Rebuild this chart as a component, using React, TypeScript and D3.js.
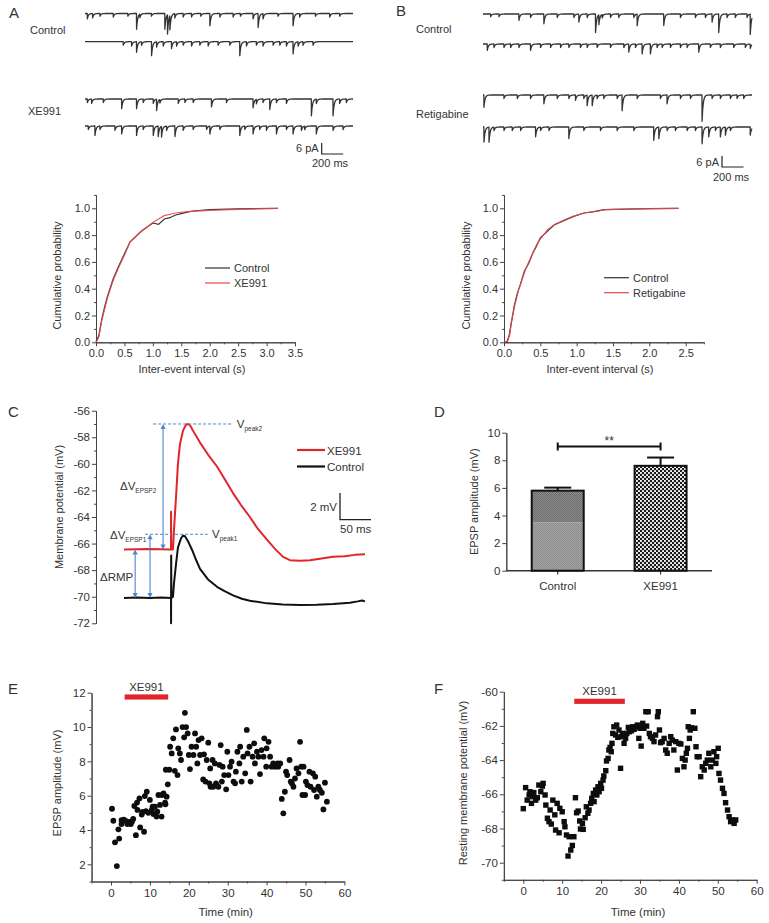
import React, { useEffect, useRef } from 'react';
import * as d3 from 'd3';

const FONT = '"Liberation Sans", Arial, Helvetica, sans-serif';
const TXT = '#333';
const RED = '#e0262b';
const BLUE = '#4f86c9';

// ---------- Panel A / B current traces: events [time ms, amplitude pA] ----------
const TRACE_MS = 2500;
const traceACtrl1 = [[22,3],[71,2.5],[140,1.5],[264,2],[400,1.5],[481,9],[512,2],[620,1.5],[745,9],[770,11],[792,8],[838,2.5],[916,2],[994,2],[1080,1.5],[1165,7],[1258,2],[1382,2],[1450,1.5],[1568,3],[1615,8],[1661,3],[1800,1.5],[1941,7],[2003,2],[2150,1.5],[2283,2],[2376,1.5]];
const traceACtrl2 = [[357,2],[435,2.5],[481,6],[528,2],[621,8],[668,3],[730,2.5],[807,4],[854,2.5],[916,2],[994,2.5],[1071,2],[1149,2.5],[1242,2],[1351,2],[1444,8],[1506,2.5],[1599,2],[1661,2.5],[1755,2],[1817,2],[1879,2.5],[1941,7],[1988,2.5],[2034,2],[2127,2]];
const traceAXe1 = [[22,2],[62,2.5],[171,2],[342,5.5],[481,5.5],[543,2],[637,2.5],[668,6.5],[699,2],[870,2.5],[932,2],[1009,2],[1180,4.5],[1320,2],[1568,5],[1599,2.5],[1661,2],[1724,6],[1786,2],[1879,2.5],[2112,9.6],[2158,2.5],[2314,9.6],[2376,2.5],[2438,2]];
const traceAXe2 = [[31,2],[93,5.4],[140,2],[280,2.5],[342,4.5],[481,5.4],[543,2],[637,5.4],[683,6],[714,6],[761,2.5],[839,6],[916,2.5],[1009,2],[1134,2],[1165,4.5],[1258,2],[1444,5.4],[1491,2],[1568,4.5],[1630,2],[1693,2.5],[1786,4.5],[1879,2],[1941,4.5],[2019,2.5],[2050,2],[2158,4.5],[2314,2.5],[2407,2]];
const traceBCtrl1 = [[71,1.5],[149,1.5],[334,3.6],[442,2],[566,5.6],[690,2],[845,2],[891,4.6],[968,2],[1046,10.6],[1077,5.6],[1108,2],[1185,2],[1262,2],[1402,2],[1433,6.6],[1680,6.6],[1835,2],[1974,2],[2067,2],[2129,4.6],[2191,10.6],[2268,2],[2345,2],[2454,2],[2484,11.6]];
const traceBCtrl2 = [[40,3.6],[102,2],[195,2],[257,2],[334,2],[442,3.6],[535,2],[628,2],[721,2],[798,2],[906,2],[968,2],[1061,2],[1185,2],[1309,2],[1355,4.6],[1417,2],[1479,5.6],[1556,5.6],[1618,2],[1665,2],[1742,2],[1835,2],[1897,2],[2005,4.6],[2113,2],[2206,2],[2330,2],[2438,2],[2484,2.5]];
const traceBRet1 = [[9,7],[195,2],[319,2],[442,2],[566,5],[690,2],[798,2],[860,3],[937,2],[968,6],[1015,6],[1061,2],[1123,2],[1247,2],[1293,9],[1433,2],[1649,2],[1711,5],[1835,2],[1928,2],[2036,15],[2129,2],[2206,2],[2299,2],[2361,2],[2423,2]];
const traceBRet2 = [[9,8.6],[56,8.6],[102,2],[195,2],[272,2],[350,2],[489,5.6],[535,2],[613,2],[798,6.6],[937,2],[1092,2],[1247,2],[1402,2],[1587,7.6],[1634,6.6],[1711,2],[1788,2],[1897,2],[1974,2],[2036,9.6],[2098,5.6],[2160,2],[2206,5.6],[2253,4.6],[2299,2],[2484,4.6]];

// ---------- Cumulative probability curves [interval s, probability] ----------
const cumACtrl = [[0,0],[0.05,0.05],[0.1,0.17],[0.15,0.26],[0.2,0.34],[0.3,0.47],[0.4,0.57],[0.5,0.66],[0.6,0.75],[0.7,0.79],[0.8,0.83],[0.9,0.86],[1.0,0.89],[1.1,0.88],[1.2,0.92],[1.3,0.93],[1.4,0.95],[1.5,0.96],[1.7,0.98],[2.0,0.99],[2.5,0.995],[3.2,1.0]];
const cumAXe = [[0,0],[0.05,0.04],[0.1,0.16],[0.2,0.33],[0.3,0.46],[0.4,0.56],[0.5,0.65],[0.6,0.75],[0.7,0.79],[0.8,0.83],[0.9,0.86],[1.0,0.895],[1.1,0.92],[1.2,0.945],[1.4,0.965],[1.6,0.975],[2.0,0.985],[2.5,0.992],[3.2,1.0]];
const cumBCtrl = [[0,0],[0.04,0],[0.07,0.05],[0.1,0.14],[0.14,0.27],[0.18,0.36],[0.23,0.44],[0.28,0.53],[0.34,0.59],[0.4,0.67],[0.44,0.71],[0.5,0.78],[0.6,0.83],[0.69,0.875],[0.83,0.91],[0.96,0.94],[1.1,0.965],[1.24,0.975],[1.38,0.99],[1.7,0.994],[2.0,0.997],[2.4,1.0]];
const cumBRet = [[0,0],[0.05,0.01],[0.08,0.06],[0.1,0.15],[0.15,0.28],[0.2,0.39],[0.25,0.47],[0.3,0.55],[0.35,0.61],[0.4,0.67],[0.45,0.73],[0.5,0.77],[0.6,0.84],[0.7,0.88],[0.8,0.905],[0.95,0.94],[1.1,0.965],[1.3,0.98],[1.4,0.99],[1.8,0.995],[2.4,1.0]];

// ---------- Panel C membrane potential traces [time ms, mV] ----------
const epspXe = [[0,-66.45],[40,-66.4],[75.8,-66.45],[75.9,-63.6],[76.2,-66.45],[79,-66.45],[80.6,-65],[83.9,-62.5],[87,-60],[90.3,-58.5],[95.2,-57.5],[100,-57.05],[103.2,-57.0],[106.5,-57.1],[111.3,-57.5],[122.6,-58.4],[135.5,-59.3],[150,-60.2],[163,-61.2],[175.8,-62.2],[188.7,-63.1],[203,-64.0],[216,-64.9],[230.6,-65.7],[243.5,-66.4],[256.5,-67.0],[267.7,-67.25],[283.9,-67.3],[300,-67.25],[316,-67.15],[337,-67.0],[356,-66.95],[372.6,-66.85],[388.7,-66.8]];
const epspCtrl = [[0,-70.1],[20,-70.05],[42,-70.1],[60,-70.05],[75.8,-70.1],[75.9,-72],[76.1,-66.9],[76.4,-70.1],[79,-70.0],[80.6,-69],[84,-67.5],[87,-66.3],[92,-65.6],[95.2,-65.4],[98.4,-65.45],[103,-65.8],[110,-66.5],[116,-67.2],[122.6,-67.9],[135.5,-68.7],[150,-69.25],[163,-69.6],[176,-69.9],[190,-70.15],[203,-70.3],[230.6,-70.5],[256,-70.58],[284,-70.62],[311,-70.6],[337,-70.55],[364.5,-70.45],[377,-70.35],[384,-70.28],[388.7,-70.35]];
const cPeaks = { peak2: -57.0, peak1: -65.3, rmpXe: -66.45, rmpCtrl: -70.1 };

// ---------- Panel D bars ----------
const dGroups = ['Control', 'XE991'];
const dMeans = [5.8, 7.6];
const dErrors = [0.22, 0.6];

// ---------- Panel E: EPSP amplitude vs time [min, mV] ----------
const ePoints = [[0.26,5.24],[0.6,4.54],[1.03,3.28],[1.5,1.9],[1.9,4.04],[2.1,3.5],[2.7,4.58],[2.7,4.35],[3.3,4.6],[3.9,4.52],[4.2,4.35],[4.7,4.47],[5.1,4.35],[5.4,4.5],[5.7,4.64],[6.0,5.4],[6.4,3.7],[6.7,5.6],[6.8,5.17],[7.3,5.84],[7.5,4.15],[7.9,4.9],[8.1,5.05],[8.5,3.9],[8.7,5.98],[9.0,5.1],[9.2,6.23],[9.6,5.0],[10.0,5.75],[10.5,5.17],[10.7,5.36],[10.9,4.93],[11.3,5.36],[11.7,4.78],[11.9,5.07],[12.2,6.04],[12.6,5.46],[13.0,4.78],[13.1,6.04],[13.5,6.13],[13.9,5.59],[14.0,5.5],[14.1,7.51],[14.3,5.94],[14.6,6.66],[15.0,7.51],[15.2,8.85],[15.6,8.46],[16.0,9.34],[16.4,7.45],[16.7,9.86],[17.1,7.2],[17.3,8.76],[17.7,8.46],[18.0,8.08],[18.4,10.0],[18.8,9.4],[19.0,10.83],[19.3,10.0],[19.7,9.63],[20.0,8.37],[20.3,7.55],[20.7,8.85],[21.2,8.37],[21.6,9.63],[21.9,8.85],[22.2,7.88],[22.5,9.24],[22.9,8.37],[23.3,9.34],[23.7,6.95],[23.9,8.41],[24.3,6.82],[24.6,8.08],[25.0,9.09],[25.3,6.72],[25.5,7.59],[25.6,6.52],[26.1,8.08],[26.3,6.52],[26.7,7.88],[27.0,6.72],[27.6,6.52],[27.9,7.79],[28.2,8.95],[28.5,6.82],[28.7,7.69],[29.1,7.2],[29.6,6.37],[29.9,8.56],[30.2,7.2],[30.6,7.69],[31.0,7.98],[31.5,6.82],[31.9,6.72],[32.1,7.4],[32.5,8.56],[33.0,7.88],[33.2,8.85],[33.6,6.82],[34.0,8.27],[34.5,7.3],[34.9,9.83],[35.1,8.46],[35.6,8.85],[35.9,6.82],[36.4,8.27],[36.8,9.05],[37.0,7.88],[37.5,8.56],[37.9,8.27],[38.3,7.26],[38.7,8.66],[39.2,8.27],[39.4,9.34],[39.9,7.69],[40.0,8.76],[40.5,9.14],[40.9,8.27],[41.3,7.69],[41.7,7.88],[42.2,7.69],[42.4,7.79],[42.8,7.88],[43.0,7.69],[43.5,7.88],[43.9,5.81],[44.3,4.97],[44.7,6.23],[45.0,7.4],[45.3,7.2],[45.9,8.08],[46.2,6.82],[46.5,6.72],[46.9,6.52],[47.3,7.0],[47.7,7.59],[48.2,7.3],[48.6,9.14],[48.9,7.69],[49.2,6.04],[49.5,7.69],[49.9,6.04],[50.1,6.82],[50.5,6.62],[51.0,7.4],[51.3,6.52],[51.9,7.3],[52.2,6.33],[52.5,7.11],[52.9,5.94],[53.3,6.52],[53.7,6.33],[54.2,6.17],[54.6,5.2],[55.0,6.76],[55.5,5.65]];
const eDrug = [3.5, 14.7];

// ---------- Panel F: resting membrane potential vs time [min, mV] ----------
const fPoints = [[0.0,-66.84],[0.6,-65.61],[1.0,-66.34],[1.5,-66.04],[1.7,-65.85],[2.1,-66.53],[2.4,-66.14],[2.7,-65.9],[3.2,-66.34],[3.6,-66.2],[4.0,-65.46],[4.5,-65.85],[4.9,-65.52],[5.1,-65.36],[5.6,-66.04],[5.8,-66.63],[6.2,-67.4],[6.6,-67.6],[6.9,-66.92],[7.2,-67.74],[7.6,-66.34],[8.1,-67.2],[8.3,-68.09],[8.7,-66.53],[9.2,-68.25],[9.4,-66.82],[10.0,-67.02],[10.5,-67.6],[10.7,-67.9],[11.1,-68.38],[11.5,-69.61],[11.8,-68.48],[12.2,-69.26],[12.6,-68.99],[13.0,-68.48],[13.4,-66.2],[13.7,-67.08],[14.1,-66.98],[14.5,-67.56],[14.7,-68.03],[15.2,-67.7],[15.4,-68.05],[15.9,-67.37],[16.2,-66.73],[16.6,-67.11],[16.9,-66.92],[17.3,-66.53],[17.6,-66.24],[18.0,-65.95],[18.2,-66.43],[18.6,-65.75],[18.9,-66.04],[19.2,-65.56],[19.5,-65.85],[19.9,-65.36],[20.1,-65.65],[20.5,-65.17],[20.7,-64.93],[21.2,-64.62],[21.4,-64.05],[21.8,-63.9],[22.0,-63.41],[22.3,-63.26],[22.6,-63.51],[22.8,-63.02],[23.0,-62.44],[23.3,-62.05],[23.7,-62.53],[24.0,-61.95],[24.3,-62.67],[24.6,-62.24],[25.0,-64.48],[25.2,-62.63],[25.5,-62.44],[25.9,-63.02],[26.3,-62.73],[26.6,-62.44],[27.0,-62.09],[27.3,-62.34],[27.8,-62.28],[28.1,-62.05],[28.5,-62.2],[28.9,-62.05],[29.3,-61.95],[29.7,-62.73],[30.0,-62.14],[30.3,-63.18],[30.7,-61.85],[31.0,-62.14],[31.5,-61.17],[31.7,-62.01],[32.1,-61.17],[32.4,-62.44],[32.7,-62.63],[33.2,-62.73],[33.6,-62.92],[34.0,-62.53],[34.5,-61.46],[34.7,-61.17],[35.0,-62.24],[35.3,-62.98],[35.7,-62.92],[36.2,-62.73],[36.6,-63.41],[37.0,-63.6],[37.5,-63.02],[37.9,-62.63],[38.3,-62.83],[38.7,-63.41],[39.2,-62.92],[39.6,-64.58],[40.0,-63.02],[40.5,-63.06],[40.9,-63.9],[41.3,-64.39],[41.6,-64.0],[41.9,-63.6],[42.2,-63.31],[42.4,-62.05],[42.7,-62.73],[42.9,-62.24],[43.2,-62.11],[43.7,-61.17],[44.1,-62.14],[44.4,-63.22],[44.7,-63.8],[45.2,-63.8],[45.6,-64.97],[46.0,-64.39],[46.5,-64.58],[46.9,-64.19],[47.3,-64.0],[47.7,-63.6],[48.2,-64.39],[48.6,-64.0],[49.0,-63.51],[49.5,-64.19],[49.7,-63.8],[50.1,-63.31],[50.3,-64.78],[50.7,-65.17],[51.2,-65.65],[51.6,-65.95],[52.0,-66.49],[52.5,-66.92],[52.9,-67.31],[53.3,-67.6],[53.7,-67.5],[54.2,-67.7],[54.6,-67.5]];
const fDrug = [13.1, 26.1];

type Sel = d3.Selection<any, any, any, any>;

function txt(g: Sel, x: number, y: number, s: string, size = 11, anchor = 'start', color = TXT) {
  return g.append('text').attr('x', x).attr('y', y).attr('font-size', size)
    .attr('font-family', FONT).attr('fill', color).attr('text-anchor', anchor).text(s);
}

function axis(g: Sel, scale: any, orient: 'left' | 'bottom', pos: number, major: number[], minor: number[], fmt: (d: any) => string, size = 11, majLen = 4, minLen = 2, pad = 2) {
  const mk = orient === 'left' ? d3.axisLeft : d3.axisBottom;
  const tr = orient === 'left' ? `translate(${pos},0)` : `translate(0,${pos})`;
  const gm = g.append('g').attr('transform', tr);
  gm.call(mk(scale).tickValues(minor).tickSize(minLen).tickSizeOuter(0).tickFormat(() => '') as any);
  const gM = g.append('g').attr('transform', tr);
  gM.call(mk(scale).tickValues(major).tickSize(majLen).tickSizeOuter(0).tickPadding(pad).tickFormat(fmt as any) as any);
  [gm, gM].forEach((a) => {
    a.selectAll('path').attr('stroke', '#444').attr('stroke-width', 1);
    a.selectAll('line').attr('stroke', '#444').attr('stroke-width', 1);
    a.selectAll('text').attr('font-size', size).attr('font-family', FONT).attr('fill', TXT);
  });
}

function tracePath(events: number[][], x0: number, x1: number, yBase: number) {
  const xs = d3.scaleLinear([0, TRACE_MS], [x0, x1]);
  const ys = d3.scaleLinear([0, 6], [yBase, yBase + 10.5]);
  const evs = events.slice().sort((a, b) => a[0] - b[0]);
  const pts: [number, number][] = [];
  for (let t = 0; t <= TRACE_MS; t += 1) {
    let v = 0;
    for (const [t0, a] of evs) if (t >= t0) v += a * Math.exp(-(t - t0) / 10);
    pts.push([xs(t), ys(v)]);
  }
  return d3.line()(pts) as string;
}

function drawTraces(svg: Sel) {
  const g = svg.append('g');
  const sets: [number[][], number, number, number][] = [
    [traceACtrl1, 85, 353, 13.5], [traceACtrl2, 85, 353, 41.7], [traceAXe1, 85, 353, 99], [traceAXe2, 85, 353, 126],
    [traceBCtrl1, 483, 752, 14], [traceBCtrl2, 483, 752, 44], [traceBRet1, 483, 752, 95], [traceBRet2, 483, 752, 127],
  ];
  sets.forEach(([ev, x0, x1, yb]) => {
    g.append('path').attr('d', tracePath(ev, x0, x1, yb)).attr('fill', 'none')
      .attr('stroke', '#333').attr('stroke-width', 1.3).attr('stroke-linejoin', 'round');
  });
  txt(g, 30, 33.5, 'Control');
  txt(g, 28, 115, 'XE991');
  txt(g, 416, 32.5, 'Control');
  txt(g, 416, 118, 'Retigabine');
  // scale bars
  const sb = (xv: number, yb: number, tx: number, ty1: number, ty2: number) => {
    g.append('path').attr('d', `M${xv},${yb - 11}V${yb}H${xv + 21.5}`).attr('fill', 'none').attr('stroke', '#222').attr('stroke-width', 1.2);
    txt(g, xv - 3, ty1, '6 pA', 11, 'end');
    txt(g, tx, ty2, '200 ms', 11, 'start');
  };
  sb(321.7, 154, 312, 152, 167);
  sb(722, 167, 713, 166, 180.5);
  svg.append('text').attr('x', 9).attr('y', 18).attr('font-size', 15).attr('font-family', FONT).attr('fill', TXT).text('A');
  svg.append('text').attr('x', 396).attr('y', 16).attr('font-size', 15).attr('font-family', FONT).attr('fill', TXT).text('B');
}

function drawCum(svg: Sel, x0: number, xMax: number, pxPerUnit: number, majX: number[], minX: number[], ctrl: number[][], trt: number[][], trtName: string, legX: number, legY: number, ylabX: number, xlabX: number) {
  const g = svg.append('g');
  const x = d3.scaleLinear([0, xMax], [x0, x0 + xMax * pxPerUnit]);
  const y = d3.scaleLinear([0, 1.1], [342.3, 342.3 - 1.1 * 134]);
  axis(g, y, 'left', x0, [0, 0.2, 0.4, 0.6, 0.8, 1.0], [0.1, 0.3, 0.5, 0.7, 0.9, 1.1], d3.format('.1f'));
  axis(g, x, 'bottom', 342.3, majX, minX, d3.format('.1f'), 11, 4, 2, 3);
  const line = d3.line<number[]>().x((d) => x(d[0])).y((d) => y(d[1]));
  g.append('path').attr('d', line(ctrl) as string).attr('fill', 'none').attr('stroke', '#333').attr('stroke-width', 1.2);
  g.append('path').attr('d', line(trt) as string).attr('fill', 'none').attr('stroke', '#e8474c').attr('stroke-width', 1.2).attr('opacity', 0.9);
  g.append('line').attr('x1', legX).attr('x2', legX + 25).attr('y1', legY).attr('y2', legY).attr('stroke', '#333').attr('stroke-width', 1.2);
  g.append('line').attr('x1', legX).attr('x2', legX + 25).attr('y1', legY + 15).attr('y2', legY + 15).attr('stroke', '#e8474c').attr('stroke-width', 1.2);
  txt(g, legX + 29, legY + 4, 'Control');
  txt(g, legX + 29, legY + 19, trtName);
  g.append('text').attr('transform', `translate(${ylabX},275.5) rotate(-90)`).attr('text-anchor', 'middle')
    .attr('font-size', 11).attr('font-family', FONT).attr('fill', TXT).text('Cumulative probability');
  txt(g, xlabX, 373, 'Inter-event interval (s)', 11, 'middle');
}

function drawC(svg: Sel) {
  const g = svg.append('g');
  const y = d3.scaleLinear([-72, -56], [623.3, 410.7]);
  const x = d3.scaleLinear([0, 50], [124, 155]);
  axis(g, y, 'left', 96, d3.range(-72, -55, 2), d3.range(-71, -56, 2), (d) => String(d), 11.5, 4, 2, 2);
  const line = d3.line<number[]>().x((d) => x(d[0])).y((d) => y(d[1]));
  g.append('path').attr('d', line(epspCtrl) as string).attr('fill', 'none').attr('stroke', '#111').attr('stroke-width', 2).attr('stroke-linejoin', 'round');
  g.append('path').attr('d', line(epspXe) as string).attr('fill', 'none').attr('stroke', RED).attr('stroke-width', 2).attr('stroke-linejoin', 'round');

  // dashed peak lines
  g.append('line').attr('x1', x(47)).attr('x2', x(176)).attr('y1', y(cPeaks.peak2)).attr('y2', y(cPeaks.peak2))
    .attr('stroke', BLUE).attr('stroke-width', 1).attr('stroke-dasharray', '3,2');
  g.append('line').attr('x1', x(34)).attr('x2', x(135)).attr('y1', y(cPeaks.peak1)).attr('y2', y(cPeaks.peak1))
    .attr('stroke', BLUE).attr('stroke-width', 1).attr('stroke-dasharray', '3,2');
  const sub = (xx: number, yy: number, main: string, s: string) => {
    const t = g.append('text').attr('x', xx).attr('y', yy).attr('font-size', 11.5).attr('font-family', FONT).attr('fill', TXT);
    t.append('tspan').text(main);
    t.append('tspan').attr('font-size', 6.5).attr('dy', 3).text(s);
  };
  sub(x(182), y(cPeaks.peak2) + 4, 'V', 'peak2');
  sub(x(142), y(cPeaks.peak1) + 4, 'V', 'peak1');

  // double arrows
  const arrow = (tx: number, v1: number, v2: number) => {
    const xx = x(tx), ya = y(v1), yb = y(v2);
    g.append('line').attr('x1', xx).attr('x2', xx).attr('y1', ya + 3).attr('y2', yb - 3).attr('stroke', BLUE).attr('stroke-width', 1.1);
    g.append('path').attr('d', `M${xx},${ya}l-2.6,5h5.2z`).attr('fill', BLUE);
    g.append('path').attr('d', `M${xx},${yb}l-2.6,-5h5.2z`).attr('fill', BLUE);
  };
  arrow(63, cPeaks.peak2, cPeaks.rmpXe);
  arrow(42, cPeaks.peak1, cPeaks.rmpCtrl);
  arrow(18, cPeaks.rmpXe, cPeaks.rmpCtrl);
  sub(120, 490, 'ΔV', 'EPSP2');
  sub(110, 539, 'ΔV', 'EPSP1');
  txt(g, 100, 581, 'ΔRMP', 11.5);

  // legend
  g.append('line').attr('x1', 297).attr('x2', 325).attr('y1', 450).attr('y2', 450).attr('stroke', RED).attr('stroke-width', 2.2);
  g.append('line').attr('x1', 297).attr('x2', 325).attr('y1', 466.5).attr('y2', 466.5).attr('stroke', '#111').attr('stroke-width', 2.2);
  txt(g, 327, 454.5, 'XE991', 11.5);
  txt(g, 327, 471, 'Control', 11.5);
  // scale bar: 2 mV vertical, 50 ms horizontal
  const sbTop = y(-62.2), sbBot = y(-64.2);
  g.append('path').attr('d', `M340,${sbTop}V${sbBot}H${x(50) - x(0) + 340}`).attr('fill', 'none').attr('stroke', '#222').attr('stroke-width', 1.3);
  txt(g, 337, 510.5, '2 mV', 11.5, 'end');
  txt(g, 340, 532.5, '50 ms', 11.5, 'start');

  g.append('text').attr('transform', 'translate(63,507) rotate(-90)').attr('text-anchor', 'middle')
    .attr('font-size', 11).attr('font-family', FONT).attr('fill', TXT).text('Membrane potential (mV)');
  svg.append('text').attr('x', 8).attr('y', 417).attr('font-size', 15).attr('font-family', FONT).attr('fill', TXT).text('C');
}

function drawD(svg: Sel) {
  const g = svg.append('g');
  const defs = svg.append('defs');
  const p1 = defs.append('pattern').attr('id', 'pLight').attr('width', 2).attr('height', 2).attr('patternUnits', 'userSpaceOnUse');
  p1.append('rect').attr('width', 2).attr('height', 2).attr('fill', '#a4a4a4');
  p1.append('rect').attr('width', 1).attr('height', 1).attr('fill', '#8c8c8c');
  p1.append('rect').attr('x', 1).attr('y', 1).attr('width', 1).attr('height', 1).attr('fill', '#8c8c8c');
  const p2 = defs.append('pattern').attr('id', 'pDark').attr('width', 2).attr('height', 2).attr('patternUnits', 'userSpaceOnUse');
  p2.append('rect').attr('width', 2).attr('height', 2).attr('fill', '#8a8a8a');
  p2.append('rect').attr('width', 1).attr('height', 1).attr('fill', '#6e6e6e');
  p2.append('rect').attr('x', 1).attr('y', 1).attr('width', 1).attr('height', 1).attr('fill', '#6e6e6e');
  const p3 = defs.append('pattern').attr('id', 'pCheck').attr('width', 4).attr('height', 4).attr('patternUnits', 'userSpaceOnUse');
  p3.append('rect').attr('width', 4).attr('height', 4).attr('fill', '#1a1a1a');
  p3.append('circle').attr('cx', 1).attr('cy', 1).attr('r', 1.05).attr('fill', '#fff');
  p3.append('circle').attr('cx', 3).attr('cy', 3).attr('r', 1.05).attr('fill', '#fff');

  const y = d3.scaleLinear([0, 10], [570.7, 432.7]);
  const x = d3.scalePoint(dGroups, [506.3, 712]).padding(0.5);
  const bw = 52;
  axis(g, y, 'left', 506.3, [0, 2, 4, 6, 8, 10], [], (d) => String(d), 11.5, 4, 0, 2);
  g.append('line').attr('x1', 506.3).attr('x2', 712).attr('y1', 570.7).attr('y2', 570.7).attr('stroke', '#333').attr('stroke-width', 1.5);
  dGroups.forEach((k, i) => {
    const cx = x(k) as number;
    g.append('line').attr('x1', cx).attr('x2', cx).attr('y1', 570.7).attr('y2', 574.5).attr('stroke', '#333').attr('stroke-width', 1.2);
    txt(g, cx, 589.5, k, 11.5, 'middle');
    const top = y(dMeans[i] + dErrors[i]);
    g.append('line').attr('x1', cx).attr('x2', cx).attr('y1', y(dMeans[i])).attr('y2', top).attr('stroke', '#111').attr('stroke-width', 2);
    g.append('line').attr('x1', cx - 13.5).attr('x2', cx + 13.5).attr('y1', top).attr('y2', top).attr('stroke', '#111').attr('stroke-width', 2);
    if (i === 0) {
      g.append('rect').attr('x', cx - bw / 2).attr('y', y(3.5)).attr('width', bw).attr('height', y(0) - y(3.5)).attr('fill', 'url(#pLight)');
      g.append('rect').attr('x', cx - bw / 2).attr('y', y(dMeans[i])).attr('width', bw).attr('height', y(3.5) - y(dMeans[i])).attr('fill', 'url(#pDark)');
    } else {
      g.append('rect').attr('x', cx - bw / 2).attr('y', y(dMeans[i])).attr('width', bw).attr('height', y(0) - y(dMeans[i])).attr('fill', 'url(#pCheck)');
    }
    g.append('rect').attr('x', cx - bw / 2).attr('y', y(dMeans[i])).attr('width', bw).attr('height', y(0) - y(dMeans[i]))
      .attr('fill', 'none').attr('stroke', '#111').attr('stroke-width', 2);
  });
  const c0 = x('Control') as number, c1 = x('XE991') as number, ys = y(9);
  g.append('path').attr('d', `M${c0},${ys - 4}V${ys + 4}M${c0},${ys}H${c1}M${c1},${ys - 4}V${ys + 4}`).attr('fill', 'none').attr('stroke', '#111').attr('stroke-width', 2);
  txt(g, (c0 + c1) / 2, ys - 2, '**', 12, 'middle');
  g.append('text').attr('transform', 'translate(478,501.7) rotate(-90)').attr('text-anchor', 'middle')
    .attr('font-size', 11).attr('font-family', FONT).attr('fill', TXT).text('EPSP amplitude (mV)');
  svg.append('text').attr('x', 434).attr('y', 417).attr('font-size', 15).attr('font-family', FONT).attr('fill', TXT).text('D');
}

function drawTime(svg: Sel, opts: any) {
  const g = svg.append('g');
  const x = d3.scaleLinear([-5, 60], [opts.x0 - 5 * 3.89, opts.x0 + 60 * 3.89]);
  const y = d3.scaleLinear(opts.yDom, opts.yRange);
  axis(g, y, 'left', x(-5), opts.yMaj, opts.yMin, (d) => String(d), 11.5, 4, 2, 2);
  axis(g, x, 'bottom', y(opts.yDom[0]), [0, 10, 20, 30, 40, 50, 60], [-5, 5, 15, 25, 35, 45, 55], (d) => String(d), 11.5, 4, 2, 3);
  if (opts.square) {
    g.selectAll('rect.pt').data(opts.points).enter().append('rect')
      .attr('x', (d: number[]) => x(d[0]) - 2.7).attr('y', (d: number[]) => y(d[1]) - 2.7)
      .attr('width', 5.4).attr('height', 5.4).attr('fill', '#0d0d0d');
  } else {
    g.selectAll('circle.pt').data(opts.points).enter().append('circle')
      .attr('cx', (d: number[]) => x(d[0])).attr('cy', (d: number[]) => y(d[1])).attr('r', 2.9).attr('fill', '#0d0d0d');
  }
  g.append('rect').attr('x', x(opts.drug[0])).attr('y', opts.barY - 2.6).attr('width', x(opts.drug[1]) - x(opts.drug[0])).attr('height', 5.2).attr('fill', RED);
  txt(g, (x(opts.drug[0]) + x(opts.drug[1])) / 2, opts.barY - 6, 'XE991', 11.5, 'middle');
  txt(g, opts.x0 + 30 * 3.89 - 2, 916, 'Time (min)', 11.5, 'middle');
  g.append('text').attr('transform', `translate(${opts.ylabX},783) rotate(-90)`).attr('text-anchor', 'middle')
    .attr('font-size', 11).attr('font-family', FONT).attr('fill', TXT).text(opts.ylab);
  svg.append('text').attr('x', opts.letterX).attr('y', 694).attr('font-size', 15).attr('font-family', FONT).attr('fill', TXT).text(opts.letter);
}

export default function App() {
  const ref = useRef<SVGSVGElement>(null);
  useEffect(() => {
    const svg = d3.select(ref.current) as Sel;
    svg.selectAll('*').remove();
    svg.append('rect').attr('width', 769).attr('height', 923).attr('fill', '#fff');
    drawTraces(svg);
    drawCum(svg, 96, 3.5, 56.86, [0, 0.5, 1, 1.5, 2, 2.5, 3, 3.5], [0.25, 0.75, 1.25, 1.75, 2.25, 2.75, 3.25], cumACtrl, cumAXe, 'XE991', 205, 268, 61, 192);
    drawCum(svg, 504, 2.75, 72.67, [0, 0.5, 1, 1.5, 2, 2.5], [0.25, 0.75, 1.25, 1.75, 2.25, 2.75], cumBCtrl, cumBRet, 'Retigabine', 604, 277.7, 470, 600);
    drawC(svg);
    drawD(svg);
    drawTime(svg, { x0: 111, yDom: [1, 12], yRange: [881.5, 692.7], yMaj: [2, 4, 6, 8, 10, 12], yMin: [1, 3, 5, 7, 9, 11], points: ePoints, square: false, drug: eDrug, barY: 697, ylab: 'EPSP amplitude (mV)', ylabX: 61, letter: 'E', letterX: 8 });
    drawTime(svg, { x0: 523.3, yDom: [-71, -60], yRange: [879.8, 691.7], yMaj: [-70, -68, -66, -64, -62, -60], yMin: [-71, -69, -67, -65, -63, -61], points: fPoints, square: true, drug: fDrug, barY: 701.3, ylab: 'Resting membrane potential (mV)', ylabX: 467, letter: 'F', letterX: 434 });
  }, []);
  return <svg ref={ref} width={769} height={923} style={{ position: 'absolute', left: 0, top: 0, display: 'block' }} />;
}
